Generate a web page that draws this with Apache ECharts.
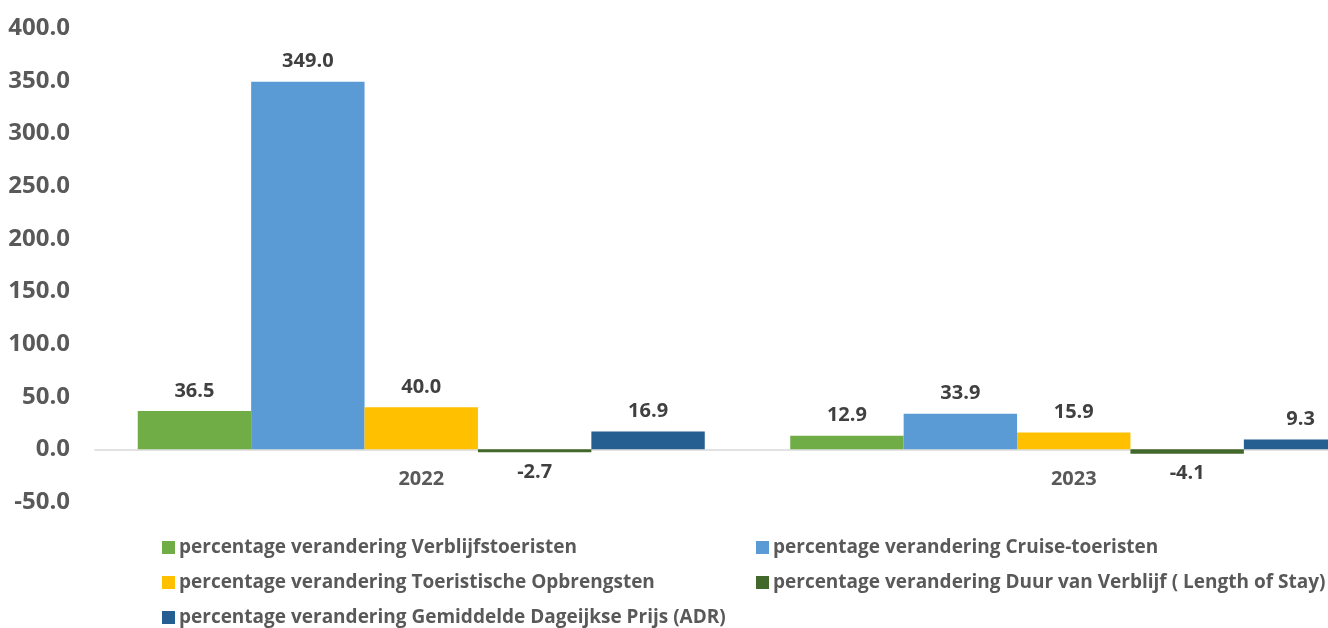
<!DOCTYPE html>
<html>
<head>
<meta charset="utf-8">
<script src="https://cdn.jsdelivr.net/npm/echarts@6/dist/echarts.min.js"></script>
<style>html,body{margin:0;padding:0;background:#fff;overflow:hidden;width:1328px;height:628px}#c{width:1400px;height:660px}</style>
</head>
<body>
<div id="c"></div>
<script>
const categories = ['2022', '2023'];
const seriesNames = [
  'percentage verandering Verblijfstoeristen',
  'percentage verandering Cruise-toeristen',
  'percentage verandering Toeristische Opbrengsten',
  'percentage verandering Duur van Verblijf ( Length of Stay)',
  'percentage verandering Gemiddelde Dageijkse Prijs (ADR)'
];
const verblijfstoeristen = [36.5, 12.9];
const cruiseToeristen = [349.0, 33.9];
const opbrengsten = [40.0, 15.9];
const duurVerblijf = [-2.7, -4.1];
const adr = [16.9, 9.3];
const colors = ['#70AD47', '#5B9BD5', '#FFC000', '#43682B', '#255E91'];

const allValues = [verblijfstoeristen, cruiseToeristen, opbrengsten, duurVerblijf, adr];
const font = '"Open Sans", sans-serif';

const series = allValues.map((vals, i) => ({
  name: seriesNames[i],
  type: 'bar',
  barGap: '0%',
  barCategoryGap: '13.1%',
  itemStyle: { color: colors[i] },
  data: vals.map(v => ({
    value: v,
    label: { position: v < 0 ? 'bottom' : 'top' }
  })),
  label: {
    show: true,
    distance: 10,
    formatter: p => p.value.toFixed(1),
    fontFamily: font,
    fontWeight: 'bold',
    fontSize: 20,
    color: '#404040'
  }
}));

const legendText = { fontFamily: font, fontWeight: 'bold', fontSize: 19, color: '#595959', padding: [0,0,0,-1] };

const chart = echarts.init(document.getElementById('c'));
chart.setOption({
  animation: false,
  color: colors,
  grid: { left: 95, right: 0, top: 28, height: 474, containLabel: false },
  legend: [
    {
      data: [seriesNames[0], seriesNames[2], seriesNames[4]],
      orient: 'vertical', left: 157, top: 533, itemGap: 16, height: 120,
      itemWidth: 13, itemHeight: 13, icon: 'rect',
      textStyle: legendText
    },
    {
      data: [seriesNames[1], seriesNames[3]],
      orient: 'vertical', left: 751, top: 533, itemGap: 16, height: 120,
      itemWidth: 13, itemHeight: 13, icon: 'rect',
      textStyle: legendText
    }
  ],
  xAxis: {
    type: 'category',
    data: categories,
    offset: -52,
    axisLine: { onZero: false, lineStyle: { color: '#D9D9D9', width: 1.5 } },
    axisTick: { show: false },
    axisLabel: { margin: 19, fontFamily: font, fontWeight: 'bold', fontSize: 20, color: '#595959' }
  },
  yAxis: {
    type: 'value',
    min: -50, max: 400, interval: 50,
    axisLine: { show: false },
    axisTick: { show: false },
    splitLine: { show: false },
    axisLabel: { margin: 25, formatter: v => v.toFixed(1), fontFamily: font, fontWeight: 'bold', fontSize: 24, color: '#595959' }
  },
  series
});
</script>
</body>
</html>
